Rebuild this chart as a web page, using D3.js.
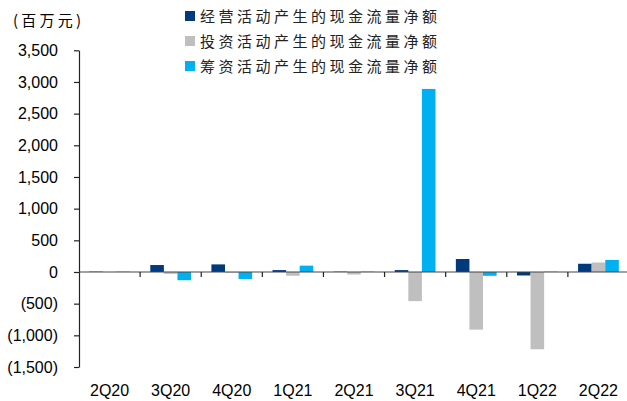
<!DOCTYPE html>
<html><head><meta charset="utf-8">
<script src="https://cdn.jsdelivr.net/npm/d3@7"></script>
<style>body{margin:0;background:#fff;}svg{display:block;}</style>
</head><body>
<svg id="c" width="627" height="401"></svg>
<script>
const categories = ["2Q20","3Q20","4Q20","1Q21","2Q21","3Q21","4Q21","1Q22","2Q22"];
const seriesNames = ["经营活动产生的现金流量净额","投资活动产生的现金流量净额","筹资活动产生的现金流量净额"];
const operating = [5, 110, 120, 30, 5, 30, 205, -55, 130];
const investing = [0, -30, -10, -60, -40, -460, -910, -1220, 150];
const financing = [5, -130, -110, 100, 5, 2890, -60, 5, 190];
const yTicks = [3500,3000,2500,2000,1500,1000,500,0,-500,-1000,-1500];
const colors = ["#003A7D","#BFBFBF","#00B0F0"];
const unitLabel = "(百万元)";

(function(){
const values = [operating, investing, financing];
const svg = d3.select("#c");
const mLeft = 79, mRight = 629, mTop = 50.3, mBottom = 367;
const y = d3.scaleLinear().domain([-1500,3500]).range([mBottom, mTop]);
const x0 = d3.scaleBand().domain(categories).range([mLeft, mRight]);
const x1 = d3.scaleBand().domain(d3.range(3)).range([0, x0.bandwidth()]).paddingOuter(0.75);

const fmt = v => { const s = d3.format(",")(Math.abs(v)); return v < 0 ? "(" + s + ")" : s; };
const font = "'Liberation Sans', Arial, sans-serif";

categories.forEach((c, i) => {
  values.forEach((arr, s) => {
    const v = arr[i];
    svg.append("rect")
      .attr("x", x0(c) + x1(s))
      .attr("width", x1.bandwidth())
      .attr("y", y(Math.max(0, v)))
      .attr("height", Math.abs(y(v) - y(0)))
      .attr("fill", colors[s]);
  });
});

const yAxis = d3.axisLeft(y).tickValues(yTicks).tickFormat(fmt).tickSize(5).tickSizeOuter(0);
const ya = svg.append("g").attr("transform", `translate(${mLeft},0)`).call(yAxis);
ya.select(".domain").attr("stroke", "#222").attr("stroke-width", 1.2);
ya.selectAll(".tick line").attr("stroke", "#222").attr("stroke-width", 1.2);
ya.selectAll(".tick text").attr("font-family", font).attr("font-size", 16).attr("fill", "#000").attr("x", -21);

svg.append("line").attr("x1", mLeft).attr("x2", mRight).attr("y1", y(0)).attr("y2", y(0))
  .attr("stroke", "#444").attr("stroke-width", 1.2);
categories.slice(1).forEach(c => {
  svg.append("line").attr("x1", x0(c)).attr("x2", x0(c)).attr("y1", y(0)).attr("y2", y(0) + 5)
    .attr("stroke", "#222").attr("stroke-width", 1.2);
});
categories.forEach(c => {
  svg.append("text").attr("x", x0(c) + x0.bandwidth()/2).attr("y", 396)
    .attr("text-anchor", "middle").attr("font-family", font).attr("font-size", 16)
    .attr("fill", "#000").text(c);
});

svg.append("text").attr("x", 13).attr("y", 26).attr("font-family", "'Noto Sans CJK SC', sans-serif")
  .attr("font-size", 15).attr("textLength", 68).attr("lengthAdjust", "spacing")
  .attr("fill", "#000").text(unitLabel);

seriesNames.forEach((n, s) => {
  const cy = 16 + s * 25;
  svg.append("rect").attr("x", 185).attr("y", cy - 5).attr("width", 10).attr("height", 10).attr("fill", colors[s]);
  svg.append("text").attr("x", 200).attr("y", cy + 5.5).attr("font-family", "'Noto Sans CJK SC', sans-serif")
    .attr("font-size", 15).attr("textLength", 237).attr("lengthAdjust", "spacing")
    .attr("fill", "#222").text(n);
});
})();
</script>
</body></html>
